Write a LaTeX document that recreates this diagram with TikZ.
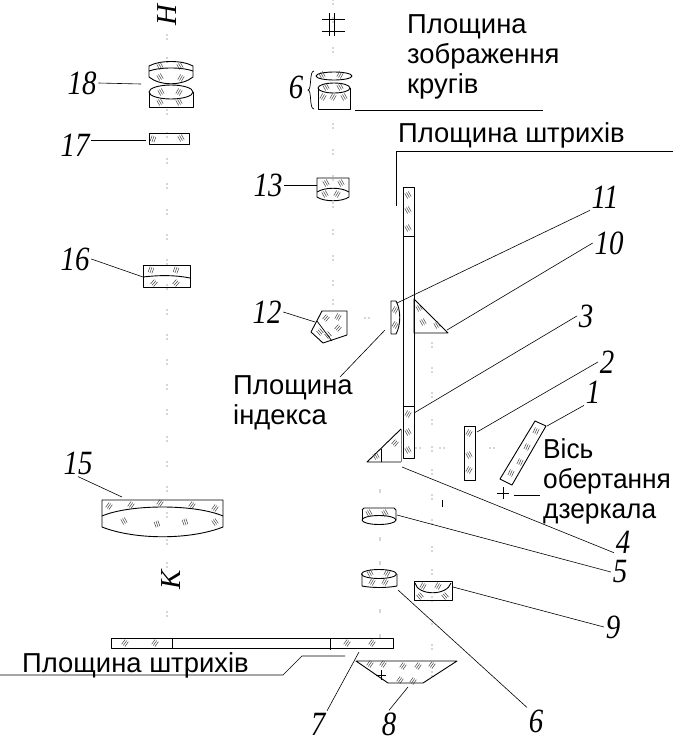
\documentclass[tikz,border=0pt]{standalone}
\usepackage{fontspec}
\setmainfont{Liberation Sans}
\newfontfamily\numfont{Liberation Serif}
\tikzset{
  num/.style = {font=\numfont\itshape\fontsize{34}{34}\selectfont, inner sep=2pt, xscale=0.85},
  caption/.style = {font=\fontsize{27.4}{30}\selectfont, align=left, inner sep=0pt},
  part/.style = {draw, line width=0.9pt, line join=round},
  leader/.style = {draw, line width=0.6pt},
  glass/.style = {draw=black!75, line width=0.5pt},
  axisdot/.style = {fill=black!70, inner sep=0pt, minimum size=1.1pt, shape=circle}
}
\begin{document}
\begin{tikzpicture}[x=1pt, y=-1pt]
  \useasboundingbox (0,0) rectangle (674,742);

  % axes, pairs of dots
  \foreach \y in {35,58,110,133,159,184,210,235,260,285,310,335,360,385,410,437,462,487,513,540,563,612}
    \path (167,\y) node[axisdot] {} (167,\y+4) node[axisdot] {};
  \foreach \y in {0,18,48,124,150,176,203,230,256,281,300}
    \path (333,\y) node[axisdot] {} (333,\y+4) node[axisdot] {};
  \foreach \y in {343,368,393,420,447,470,495,520,547,570,597,620,645,672}
    \path (432,\y) node[axisdot] {} (432,\y+4) node[axisdot] {};
  \foreach \y in {490,538,562,610,635}
    \path (380,\y) node[axisdot] {} (380,\y+2) node[axisdot] {};
  \foreach \x/\y in {365/318,369/318,416/448,420/448,440/448,444/448,490/448,494/448}
    \node[axisdot] at (\x,\y) {};

  % image plane mark
  \draw[line width=0.7pt] (322,19) -- (345,19) (322,31) -- (345,31) (329,13) -- (329,36) (334,13) -- (334,36);

  % left column
  \draw[part] (149,66) .. controls (160,60) and (182,60) .. (193,66) -- (193,77)
    .. controls (182,86) and (160,86) .. (149,77) -- cycle;
  \draw[part] (149,71) .. controls (160,67) and (182,67) .. (193,71);
  \draw[part] (171,92) ellipse (22 and 7);
  \draw[part] (149,92) -- (149,107) -- (193,107) -- (193,92);
  \draw[part] (149,133) rectangle (189,144);
  \draw[part] (143,265) rectangle (190,287);
  \draw[part] (143,277) .. controls (160,275) and (175,275) .. (190,278);
  \draw[part] (102,500) -- (223,500) -- (223,527) .. controls (190,540) and (135,540) .. (102,527) -- cycle;
  \draw[part] (102,516) .. controls (130,504) and (195,504) .. (223,516);

  % middle column
  \draw[part] (334,76) ellipse (18 and 4);
  \draw[part] (334,88) ellipse (16 and 5);
  \draw[part] (318,88) -- (318,109) -- (350,109) -- (350,88);
  \draw[line width=0.7pt] (314,71) .. controls (309,71) and (312,90) .. (308,90)
    .. controls (312,90) and (309,109) .. (314,109);
  \draw[part] (317,178) -- (349,178) -- (349,197) .. controls (342,202) and (324,202) .. (317,197) -- cycle;
  \draw[part] (317,192) .. controls (325,187) and (341,187) .. (349,192);
  \draw[part] (322,311) -- (347,311) -- (347,335) -- (323,343) -- (311,332) -- cycle;
  \draw[part, line width=0.7pt] (317,321) -- (332,341);

  % graticule plate and prisms beside it
  \draw[part] (403,187) rectangle (414,458);
  \draw[part] (403,236) -- (414,236) (403,406) -- (414,406);
  \draw[part] (391,301) -- (396,301) .. controls (401,310) and (401,325) .. (396,334) -- (391,334) -- cycle;
  \draw[part] (414,299) -- (414,333) -- (448,333) -- cycle;
  \draw[part] (401,429) -- (367,462) -- (401,462);
  \draw[draw=black!50, line width=0.9pt] (401,429) -- (401,462);
  \draw[line width=0.7pt] (381,449) -- (381,462);

  % mirror and plate on the right
  \draw[part] (464,426) rectangle (475,480);
  \draw[part] (535,421) -- (546,426) -- (512,485) -- (500,479) -- cycle;
  \draw[line width=0.7pt] (497,493) -- (509,493) (503,487) -- (503,499);
  \draw[line width=0.7pt] (442,500) -- (442,507);

  % lower lenses
  \draw[part] (362,510) -- (364,508) -- (394,508) -- (396,510) -- (396,520);
  \draw[part] (362,510) -- (362,520);
  \draw[part] (379,520) ellipse (17 and 4.5);
  \draw[part] (379,574) ellipse (17.5 and 4.5);
  \draw[part] (362,574) -- (362,586) .. controls (372,588) and (387,588) .. (397,586) -- (397,574);
  \draw[part] (414,581) rectangle (452,600);
  \draw[part] (415,583) .. controls (418,596) and (447,596) .. (451,583);
  \draw[part] (111,638) rectangle (393,648);
  \draw[part] (172,638) -- (172,648) (330,638) -- (330,650);
  \draw[part] (356,661) -- (457,661) -- (423,683) -- (388,683) -- cycle;
  \draw[line width=0.6pt] (376,675) -- (386,675) (381,670) -- (381,680);

  % glass hatching
  \foreach \x/\y/\a in {
    160/66/30, 180/66/30, 160/77/30, 181/78/-30, 161/92/30, 179/92/-30, 160/102/30, 179/102/30,
    153/139/-20, 181/138/30, 151/270/-20, 176/270/-20, 154/283/-40, 176/283/-40,
    326/183/30, 341/183/30, 325/194/30, 337/194/-30, 322/75/30, 340/75/-30,
    326/87/30, 340/87/30, 323/97/-30, 333/97/-30, 344/97/30,
    408/195/30, 408/210/30, 408/228/30, 408/414/-30, 408/432/30, 408/450/30,
    395/310/-30, 395/325/-30, 419/308/30, 423/322/30, 437/325/30,
    326/318/-40, 338/317/-30, 338/328/-40, 320/332/40, 328/335/40,
    469/433/-30, 469/455/30, 469/470/-30, 536/431/-25, 527/447/-25, 520/462/-25, 511/473/-25,
    395/443/-40, 376/456/30, 369/513/30, 385/513/30, 370/573/30, 387/573/-30, 372/582/-30, 385/582/-30,
    423/586/-30, 438/586/-30, 420/596/40, 445/596/40,
    109/506/-35, 131/505/-35, 160/503/-35, 192/505/-35, 215/508/-35, 124/521/30, 157/524/20, 185/522/20, 215/522/35,
    125/643/-35, 155/643/-35, 347/643/-35, 372/643/-35,
    370/664/-35, 383/664/-35, 403/666/-35, 418/666/-35, 432/665/-35, 400/680/-35, 413/681/-35}
    \draw[glass, shift={(\x,\y)}, rotate=\a] (-2,-3) -- (-2,3) (0,-3) -- (0,3) (2,-3) -- (2,3);

  % captions
  \node[caption, anchor=north west] (imageplane) at (407,14) {Площина\\зображення\\кругів};
  \node[caption, anchor=base west] (marksplane) at (398,142) {Площина штрихів};
  \node[caption, anchor=base west] (marksplane2) at (22,672) {Площина штрихів};
  \node[caption, anchor=north west] (indexplane) at (233,375) {Площина\\індекса};
  \node[caption, anchor=north west, xscale=0.96] (mirroraxis) at (543,438) {Вісь\\обертання\\дзеркала};

  % caption rules
  \coordinate (r1) at (355,110); \coordinate (r2) at (543,110);
  \draw[leader] (r1) -- (r2);
  \coordinate (r3) at (396,206); \coordinate (r4) at (396,151); \coordinate (r5) at (673,151);
  \draw[leader] (r3) -- (r4) -- (r5);
  \coordinate (r6) at (0,675); \coordinate (r7) at (283,675); \coordinate (r8) at (302,656); \coordinate (r9) at (345,656);
  \draw[leader] (r6) -- (r7) -- (r8) -- (r9);
  \coordinate (ix) at (385,330); \coordinate (iy) at (340,377);
  \draw[leader] (ix) -- (iy);
  \coordinate (ax) at (514,495); \coordinate (ay) at (540,495);
  \draw[leader] (ax) -- (ay);

  % numbers
  \node[num] (n1) at (593,392) {1};
  \node[num] (n2) at (607,362) {2};
  \node[num] (n3) at (586,316) {3};
  \node[num] (n4) at (623,542) {4};
  \node[num] (n5) at (620,572) {5};
  \node[num] (n6a) at (296,87) {6};
  \node[num] (n6b) at (536,721) {6};
  \node[num] (n7) at (318,724) {7};
  \node[num] (n8) at (389,724) {8};
  \node[num] (n9) at (613,627) {9};
  \node[num] (n10) at (609,243) {10};
  \node[num] (n11) at (605,197) {11};
  \node[num] (n12) at (267,312) {12};
  \node[num] (n13) at (268,185) {13};
  \node[num] (n15) at (78,463) {15};
  \node[num] (n16) at (75,259) {16};
  \node[num] (n17) at (75,145) {17};
  \node[num] (n18) at (82,83) {18};
  \node[num, xscale=1, yscale=0.85, rotate=90] (nH) at (167,15) {H};
  \node[num, xscale=1, yscale=0.85, rotate=90] (nK) at (171,580) {K};

  % leaders
  \coordinate (e1) at (547,426);
  \coordinate (e2) at (477,432);
  \coordinate (e3) at (414,413);
  \coordinate (e4) at (402,467);
  \coordinate (e5) at (397,515);
  \coordinate (e6) at (398,590);
  \coordinate (e7) at (359,652);
  \coordinate (e8) at (408,687);
  \coordinate (e9) at (453,587);
  \coordinate (e10) at (447,330);
  \coordinate (e11) at (397,303);
  \coordinate (e12) at (315,322);
  \coordinate (e13) at (317,185);
  \coordinate (e15) at (122,497);
  \coordinate (e16) at (143,277);
  \coordinate (e17) at (146,140);
  \coordinate (e18) at (141,84);
  \foreach \a/\b in {n1.south west/e1,n2.west/e2,n3.west/e3,n4.225/e4,n5.west/e5,n6b.north west/e6,n7.north east/e7,n8.north/e8,n9.west/e9,n10.west/e10,n11.south west/e11,n12.east/e12,n13.east/e13,n15.south/e15,n16.east/e16,n18.east/e18}
    \draw[leader] (\a) -- (\b);
  \draw[leader] (n17.east |- e17) -- (e17);

\end{tikzpicture}
\end{document}
